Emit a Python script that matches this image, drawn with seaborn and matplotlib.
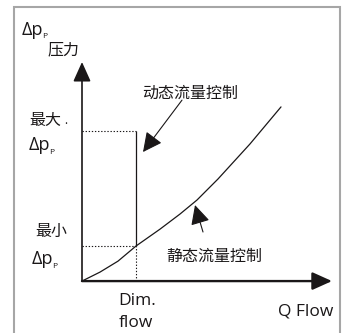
import matplotlib.pyplot as plt
import matplotlib.patches as mpatches
import seaborn as sns

# static flow control curve (flow vs differential pressure, arbitrary units 0..100)
flow = [0, 7.2, 14.4, 21.6, 31.2, 39.2, 46.0, 54.4, 67.2, 79.6]
dp_static = [0, 4.1, 9.1, 16.0, 23.7, 30.6, 37.0, 46.6, 62.6, 79.5]

dim_flow = 21.6
dp_min = 16.0
dp_max = 68.5
axis_end = 100

sns.set_theme(style="white")
plt.rcParams['font.family'] = ['Noto Sans CJK SC', 'DejaVu Sans']

fig = plt.figure(figsize=(3.47, 3.33), dpi=100)
ax = fig.add_axes([0, 0, 1, 1])
ax.set_xlim(-32.8, 106)
ax.set_ylim(-23.7, 128.3)
ax.axis('off')

ink = '#1a1718'

def px(x, y):
    # pixel position -> figure fraction
    return (x / 347, 1 - y / 333)

# grey frame
fig.patches.append(mpatches.Rectangle(px(13.5, 400), (339.5 - 13.5) / 347, (400 - 6.5) / 333,
                                      transform=fig.transFigure, fill=False,
                                      edgecolor='#a6a6a6', lw=1.5))

# axes with arrows
ax.annotate('', xy=(axis_end, 0), xytext=(0, 0),
            arrowprops=dict(arrowstyle='-|>,head_length=0.6,head_width=0.27', mutation_scale=20,
                            lw=1.7, color=ink, shrinkA=0, shrinkB=0))
ax.annotate('', xy=(0, axis_end), xytext=(0, 0),
            arrowprops=dict(arrowstyle='-|>,head_length=0.6,head_width=0.27', mutation_scale=20,
                            lw=1.2, color=ink, shrinkA=0, shrinkB=0))

# curve
sns.lineplot(x=flow, y=dp_static, ax=ax, color=ink, lw=0.9)

# dynamic control line + guides
ax.vlines(dim_flow, dp_min, dp_max, color=ink, lw=0.9)
dots = (0, (1.2, 1.6))
ax.hlines([dp_min, dp_max], 0, dim_flow, color=ink, lw=0.8, linestyles=dots)
ax.vlines(dim_flow, 0, dp_min, color=ink, lw=0.8, linestyles=dots)

# annotation arrows
arr = dict(arrowstyle='-|>,head_length=0.7,head_width=0.35', mutation_scale=17,
           lw=0.8, color=ink, shrinkA=0, shrinkB=0)
ax.annotate('', xy=(24.4, 58.9), xytext=(40.0, 82.6), arrowprops=arr)
ax.annotate('', xy=(45.2, 34.7), xytext=(48.4, 22.4), arrowprops=arr)

cjk = dict(fontsize=11.5, color=ink, transform=fig.transFigure, va='center')
lat = ['Open Sans', 'DejaVu Sans']
renderer = fig.canvas.get_renderer()

def dp_label(x, y):
    t = fig.text(*px(x, y), 'Δp', fontsize=13, color=ink, family=lat, va='baseline', ha='left')
    bb = t.get_window_extent(renderer)
    fig.text(*px(bb.x1 - 1, y + 3.5), 'P', fontsize=6, color=ink, family=lat,
             va='baseline', ha='left')

dp_label(22, 35)
fig.text(*px(63, 50), '压力', ha='center', **cjk)
fig.text(*px(29, 120), '最大', ha='left', **cjk)
fig.text(*px(64, 121), '.', fontsize=8, color=ink, ha='left', va='center')
dp_label(29, 150)
fig.text(*px(35, 231), '最小', ha='left', **cjk)
dp_label(32, 264)

fig.text(*px(190, 93), '动态流量控制', ha='center', **cjk)
fig.text(*px(214, 256), '静态流量控制', ha='center', **cjk)

fig.text(*px(118, 301), 'Dim.', fontsize=12.5, color=ink, family=lat, ha='left', va='center')
fig.text(*px(119, 323), 'flow', fontsize=12.5, color=ink, family=lat, ha='left', va='center')
fig.text(*px(333, 311), 'Q Flow', fontsize=12.5, color=ink, family=lat, ha='right', va='center')

plt.savefig('out.png', dpi=100)
